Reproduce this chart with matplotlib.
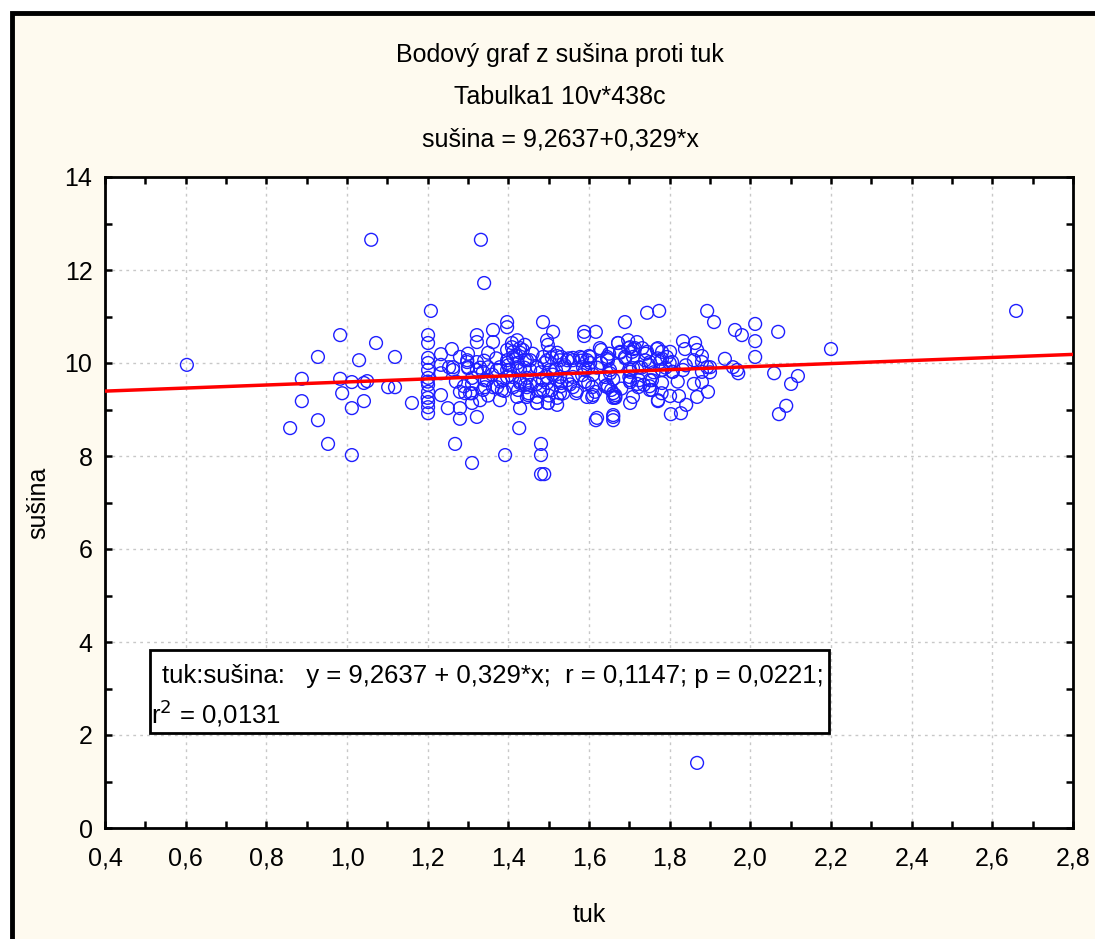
import numpy as np
import matplotlib
matplotlib.use("Agg")
from matplotlib import pyplot as plt
from matplotlib.patches import Rectangle

plt.rcParams['font.family'] = ['Liberation Sans', 'DejaVu Sans']

# tuk (x) and sušina (y)
tuk = [
    0.603, 0.859, 0.888, 0.888, 0.928, 0.928, 0.953, 0.983, 0.983, 0.988,
    1.012, 1.012, 1.012, 1.030, 1.042, 1.042, 1.050, 1.060, 1.072, 1.102,
    1.119, 1.119, 1.161, 1.208, 1.332, 1.340, 1.310, 1.268, 1.392, 1.427,
    1.481, 1.481, 1.481, 1.489, 1.868, 2.659, 2.200, 2.071, 2.089, 2.101,
    2.118, 2.059, 2.069, 2.012, 2.012, 2.012, 1.979, 1.962, 1.893, 1.910,
    1.937, 1.957, 1.967, 1.970, 1.617, 1.660, 1.660, 1.744, 1.774, 1.689,
    1.803, 1.771, 1.801, 1.702, 1.709,
    1.201, 1.201, 1.201, 1.201, 1.201, 1.201, 1.201, 1.201, 1.201, 1.201, 1.201,
    1.233, 1.233, 1.233, 1.233,
    1.250, 1.280, 1.280, 1.263, 1.280, 1.298, 1.300, 1.310, 1.322, 1.322,
    1.362, 1.362, 1.322, 1.322, 1.322, 1.350, 1.337, 1.347, 1.337, 1.310,
    1.310, 1.330, 1.372, 1.379, 1.397, 1.397, 1.397, 1.397, 1.409, 1.412,
    1.429, 1.441, 1.422, 1.424, 1.429, 1.397, 1.397, 1.454, 1.446, 1.454,
    1.471, 1.471, 1.471, 1.479, 1.486, 1.511, 1.496, 1.498, 1.486, 1.496,
    1.503, 1.496, 1.496, 1.508, 1.498, 1.521, 1.521, 1.528, 1.536, 1.528,
    1.546, 1.560, 1.560, 1.536, 1.521, 1.578, 1.585, 1.583, 1.595, 1.598,
    1.603, 1.608, 1.595, 1.610, 1.620, 1.588, 1.588, 1.617, 1.627, 1.645,
    1.647, 1.640, 1.652, 1.647, 1.660, 1.660, 1.660, 1.665, 1.672, 1.677,
    1.697, 1.702, 1.707, 1.709, 1.719, 1.732, 1.739, 1.702, 1.702, 1.722,
    1.751, 1.751, 1.751, 1.771, 1.781, 1.776, 1.781, 1.781, 1.771, 1.801,
    1.806, 1.808, 1.823, 1.833, 1.838, 1.863, 1.868, 1.860, 1.880, 1.880,
    1.880, 1.893, 1.900, 1.895, 1.868, 1.833, 1.841, 1.828,
    1.253, 1.263, 1.298, 1.300, 1.280, 1.293, 1.305, 1.342, 1.350, 1.342,
    1.372, 1.379, 1.387, 1.362, 1.384, 1.397, 1.404, 1.412, 1.422, 1.429,
    1.436, 1.441, 1.412, 1.422, 1.429, 1.446, 1.446, 1.409, 1.422,
    1.446, 1.454, 1.429, 1.441, 1.449, 1.471, 1.471, 1.486, 1.486, 1.498,
    1.503, 1.508, 1.518, 1.521, 1.528, 1.531, 1.531, 1.546, 1.553, 1.560,
    1.568, 1.583, 1.590, 1.598, 1.603, 1.608, 1.615,
    1.630, 1.645, 1.652, 1.645, 1.655, 1.665, 1.665, 1.672, 1.677, 1.689,
    1.697, 1.702, 1.709, 1.702, 1.714, 1.724, 1.724, 1.736, 1.744, 1.748,
    1.756, 1.756, 1.768, 1.781, 1.781, 1.793, 1.806,
    1.26, 1.27, 1.29, 1.30, 1.31, 1.33, 1.34, 1.35, 1.36, 1.37,
    1.38, 1.39, 1.40, 1.41, 1.42, 1.43, 1.44, 1.45, 1.46, 1.47,
    1.48, 1.49, 1.50, 1.51, 1.52, 1.53, 1.54, 1.55, 1.56, 1.57,
    1.58, 1.59, 1.60, 1.61, 1.62, 1.63, 1.64, 1.65, 1.66, 1.67,
    1.68, 1.69, 1.70, 1.71, 1.72, 1.73, 1.74, 1.75, 1.76, 1.77,
    1.78, 1.79, 1.80, 1.82, 1.84, 1.86, 1.88, 1.90, 1.20, 1.20,
]
susina = [
    9.96, 8.60, 9.66, 9.18, 10.13, 8.77, 8.26, 10.60, 9.66, 9.35,
    8.02, 9.03, 9.59, 10.06, 9.18, 9.57, 9.61, 12.65, 10.43, 9.48,
    9.48, 10.13, 9.14, 11.12, 12.65, 11.72, 7.85, 8.26, 8.02, 8.60,
    8.26, 8.02, 7.61, 7.61, 1.40, 11.12, 10.30, 8.90, 9.08, 9.55,
    9.72, 9.78, 10.67, 10.84, 10.47, 10.13, 10.60, 10.71, 11.12, 10.88,
    10.09, 9.91, 9.85, 9.78, 8.77, 8.84, 8.77, 11.08, 11.12, 10.88,
    8.90, 9.18, 9.29, 9.14, 9.27,
    10.60, 10.43, 10.11, 10.00, 9.85, 9.68, 9.53, 9.38, 9.16, 9.05, 8.92,
    10.19, 9.96, 9.78, 9.31,
    9.03, 9.03, 8.80, 9.91, 10.13, 10.02, 9.89, 9.68, 10.60, 10.45,
    10.71, 10.45, 10.02, 9.85, 8.84, 10.22, 9.81, 9.63, 9.42, 9.35,
    9.14, 9.20, 9.48, 9.20, 10.28, 10.06, 9.85, 9.70, 10.43, 10.24,
    10.32, 10.39, 9.91, 9.42, 9.03, 10.88, 10.77, 10.06, 9.68, 9.53,
    9.91, 9.27, 9.14, 9.42, 10.88, 10.67, 10.49, 10.39, 10.13, 10.06,
    9.85, 9.70, 9.57, 9.42, 9.14, 9.10, 10.22, 10.06, 9.91, 9.70,
    9.63, 10.11, 9.48, 9.35, 9.25, 10.13, 9.91, 9.74, 10.06, 9.89,
    10.00, 9.48, 9.27, 9.31, 8.82, 10.67, 10.58, 10.67, 10.32, 10.13,
    10.06, 9.70, 9.78, 9.48, 9.35, 9.25, 8.88, 9.27, 10.43, 10.24,
    10.49, 10.34, 10.24, 10.13, 10.45, 10.32, 10.06, 9.85, 9.63, 9.48,
    10.02, 9.63, 9.42, 10.32, 10.24, 10.02, 9.85, 9.57, 9.20, 10.24,
    10.02, 9.81, 9.29, 10.47, 10.30, 10.43, 10.28, 10.06, 10.02, 9.81,
    9.59, 9.91, 9.91, 9.38, 9.27, 9.85, 9.10, 8.92,
    9.91, 9.85, 10.06, 9.91, 9.38, 9.35, 9.35, 9.63, 9.91, 9.48,
    9.85, 9.91, 9.63, 9.48, 9.42, 10.00, 9.85, 10.13, 10.00, 10.22,
    10.28, 10.06, 9.48, 9.27, 9.57, 9.48, 9.27, 10.34, 10.49,
    10.06, 9.85, 9.85, 9.53, 9.31, 9.91, 9.14, 9.63, 9.42, 9.14,
    10.24, 10.11, 9.85, 9.63, 9.35, 10.13, 9.57, 10.06, 9.54, 10.06,
    9.35, 10.11, 9.85, 9.57, 10.13, 9.27, 9.38,
    10.28, 10.09, 9.85, 9.53, 9.42, 9.31, 9.25, 10.43, 10.22, 10.13,
    10.32, 9.81, 9.89, 9.59, 10.32, 9.91, 9.63, 9.53, 10.24, 9.96,
    9.63, 9.42, 10.30, 10.09, 9.85, 10.13, 9.81,
    10.30, 9.60, 9.50, 10.20, 9.55, 9.90, 10.05, 9.30, 9.75, 10.10,
    9.60, 9.40, 9.95, 9.70, 10.15, 9.60, 9.90, 9.35, 10.20, 9.55,
    9.80, 10.00, 9.30, 9.75, 10.15, 9.50, 9.95, 10.10, 9.70, 9.40,
    10.05, 9.60, 10.15, 9.75, 9.90, 10.00, 9.50, 10.20, 9.65, 9.95,
    9.45, 10.10, 9.70, 10.30, 9.55, 9.90, 10.20, 9.50, 9.80, 10.10,
    9.35, 9.90, 10.00, 9.60, 9.95, 9.55, 10.15, 9.80, 9.60, 9.25,
]

b0, b1 = 9.2637, 0.329

x_ticks = [0.4, 0.6, 0.8, 1.0, 1.2, 1.4, 1.6, 1.8, 2.0, 2.2, 2.4, 2.6, 2.8]
x_labels = ['0,4', '0,6', '0,8', '1,0', '1,2', '1,4', '1,6', '1,8', '2,0', '2,2', '2,4', '2,6', '2,8']
y_ticks = [0, 2, 4, 6, 8, 10, 12, 14]
y_labels = ['0', '2', '4', '6', '8', '10', '12', '14']

FS = 18

fig = plt.figure(figsize=(10.95, 9.39), dpi=100)
fig.patch.set_facecolor('white')

# cream panel with heavy black frame (right/bottom edges run off the picture)
frame = Rectangle((12 / 1095, -0.05), 1.2, 1 - 13 / 939 + 0.05,
                  transform=fig.transFigure, facecolor='#fefaef',
                  edgecolor='black', linewidth=3.5, zorder=-10)
fig.patches.append(frame)

ax = fig.add_axes([105 / 1095, 1 - 828 / 939, 968 / 1095, 651 / 939])
ax.set_facecolor('white')

ax.scatter(tuk, susina, s=85, facecolors='none', edgecolors='#1f1fff',
           linewidths=1.0, zorder=3)

xl = np.array([0.4, 2.8])
ax.plot(xl, b0 + b1 * xl, color='red', lw=2.5, zorder=4)

ax.set_xlim(0.4, 2.8)
ax.set_ylim(0, 14)
ax.set_xticks(x_ticks)
ax.set_xticklabels(x_labels, fontsize=FS)
ax.set_yticks(y_ticks)
ax.set_yticklabels(y_labels, fontsize=FS)
ax.set_xticks(np.arange(0.5, 2.8, 0.2), minor=True)
ax.set_yticks(np.arange(1, 14, 2), minor=True)
ax.tick_params(which='both', direction='in', top=True, right=True,
               length=5, width=1.8)
ax.tick_params(axis='x', which='major', pad=13)
ax.tick_params(axis='y', which='major', pad=9)
ax.grid(True, which='major', color='#c8c8c8', linestyle=(0, (2, 3)), lw=1)
for s in ax.spines.values():
    s.set_linewidth(2)

ax.set_xlabel('tuk', fontsize=FS, labelpad=24)
ax.set_ylabel('sušina', fontsize=FS, labelpad=10)

# statistics box
box = Rectangle((0.0465, 0.146), 0.701, 0.127, transform=ax.transAxes,
                facecolor='white', edgecolor='black', linewidth=2, zorder=5)
ax.add_patch(box)
ax.text(0.059, 0.233, 'tuk:sušina:   y = 9,2637 + 0,329*x;  r = 0,1147; p = 0,0221;',
        transform=ax.transAxes, fontsize=18.5, va='center', ha='left', zorder=6)
ax.text(0.0475, 0.176, r'r$^2$ = 0,0131',
        transform=ax.transAxes, fontsize=18.5, va='center', ha='left', zorder=6)

cx = 560 / 1095
fig.text(cx, 1 - 55 / 939, 'Bodový graf z sušina proti tuk', ha='center', va='center', fontsize=FS)
fig.text(cx, 1 - 97 / 939, 'Tabulka1 10v*438c', ha='center', va='center', fontsize=FS)
fig.text(cx, 1 - 140 / 939, 'sušina = 9,2637+0,329*x', ha='center', va='center', fontsize=FS)

fig.savefig('out.png', dpi=100, facecolor=fig.get_facecolor())
